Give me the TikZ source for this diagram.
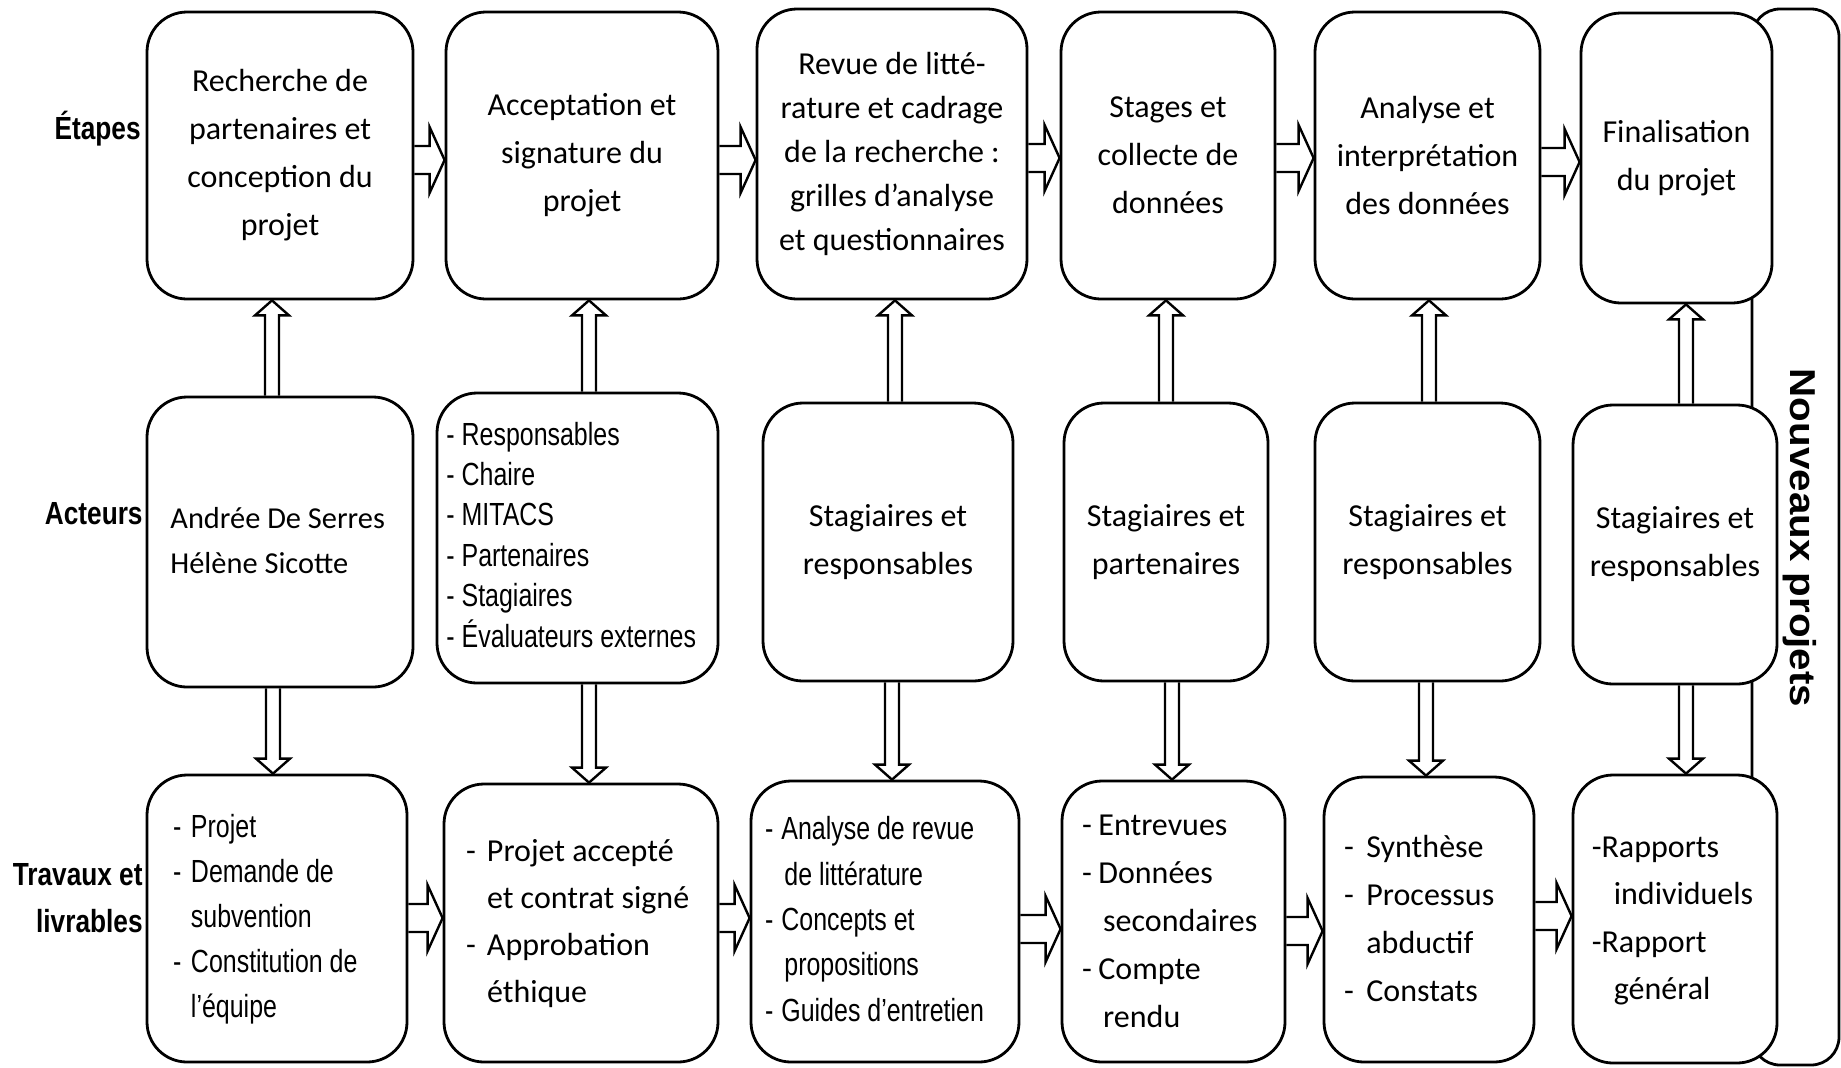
\documentclass[tikz,border=0pt]{standalone}
\usepackage{fontspec}
\usepackage{graphicx}
\setmainfont{Carlito}
\newfontfamily\narrowfont[FakeStretch=0.78]{Liberation Sans}
\newfontfamily\lblfont[FakeStretch=0.82]{Liberation Sans}
\newfontfamily\wideboldfont{Liberation Sans}
\usetikzlibrary{calc,backgrounds}
\newcommand\Dsh[1]{\makebox[#1][l]{-}}
\newcommand\Ind[1]{\hspace*{#1}}
% left-aligned block inside a box of given width, with given left padding
\newcommand\LBox[3]{\makebox[#2][l]{\hspace*{#1}\begin{tabular}{@{}l@{}}#3\end{tabular}}}
\newcommand\ArrRight[3]{%
  \draw[blk] let \p1=(#1.east |- #3), \p2=(#2.west |- #3) in
    (\x1,\y1+7pt) -- (\x2-7.5pt,\y1+7pt) -- (\x2-7.5pt,\y1+16.5pt) -- (\x2,\y1)
    -- (\x2-7.5pt,\y1-16.5pt) -- (\x2-7.5pt,\y1-7pt) -- (\x1,\y1-7pt);}
\newcommand\ArrUp[3]{%
  \draw[blk] let \p1=(#1.north -| #3), \p2=(#2.south -| #3) in
    (\x1-3.5pt,\y1) -- (\x1-3.5pt,\y2-7.5pt) -- (\x1-8.5pt,\y2-7.5pt) -- (\x1,\y2)
    -- (\x1+8.5pt,\y2-7.5pt) -- (\x1+3.5pt,\y2-7.5pt) -- (\x1+3.5pt,\y1);}
\newcommand\ArrDown[3]{%
  \draw[blk] let \p1=(#1.south -| #3), \p2=(#2.north -| #3) in
    (\x1-3.5pt,\y1) -- (\x1-3.5pt,\y2+7.5pt) -- (\x1-8.5pt,\y2+7.5pt) -- (\x1,\y2)
    -- (\x1+8.5pt,\y2+7.5pt) -- (\x1+3.5pt,\y2+7.5pt) -- (\x1+3.5pt,\y1);}
\tikzset{
  box/.style={draw, line width=1.4pt, rounded corners=20pt, fill=white, inner sep=0pt,
    font=\fontsize{16}{24}\selectfont, align=center},
  blk/.style={draw, line width=1.2pt, line join=miter},
  lbl/.style={font=\lblfont\bfseries\fontsize{16}{23.5}\selectfont, anchor=east, align=right, inner sep=0pt},
  backbox/.style={draw, line width=1.4pt, rounded corners=14pt, inner sep=0pt},
}
\begin{document}
\begin{tikzpicture}[x=0.5pt,y=-0.5pt]
\useasboundingbox (0,0) rectangle (1841,1067);

% top row
\node[box, minimum width=133pt, minimum height=143.5pt] (t1) at (280,155.5) {Recherche de\\partenaires et\\conception du\\projet};
\node[box, minimum width=136pt, minimum height=143.5pt] (t2) at (582,155.5) {Acceptation et\\signature du\\projet};
\node[box, minimum width=135pt, minimum height=145pt, font=\fontsize{16}{22}\selectfont] (t3) at (892,154) {Revue de litté-\\rature et cadrage\\de la recherche :\\grilles d’analyse\\et questionnaires};
\node[box, minimum width=107pt, minimum height=143.5pt] (t4) at (1168,155.5) {Stages et\\collecte de\\données};
\node[box, minimum width=112.5pt, minimum height=143.5pt] (t5) at (1427.5,155.5) {Analyse et\\interprétation\\des données};
\node[box, minimum width=95.5pt, minimum height=145pt] (t6) at (1676.5,158) {Finalisation\\du projet};

% middle row
\node[box, minimum width=133pt, minimum height=145pt, font=\fontsize{15.2}{22.3}\selectfont] (m1) at (280,542)
  {\LBox{11.7pt}{133pt}{Andrée De Serres\\Hélène Sicotte}};
\node[box, minimum width=140.5pt, minimum height=145pt, font=\narrowfont\fontsize{16}{20.2}\selectfont] (m2) at (577.5,538)
  {\LBox{4.7pt}{140.5pt}{- Responsables\\- Chaire\\- MITACS\\- Partenaires\\- Stagiaires\\- Évaluateurs externes}};
\node[box, minimum width=125pt, minimum height=139pt] (m3) at (888,542) {Stagiaires et\\responsables};
\node[box, minimum width=102pt, minimum height=139pt] (m4) at (1166,542) {Stagiaires et\\partenaires};
\node[box, minimum width=112.5pt, minimum height=139pt] (m5) at (1427.5,542) {Stagiaires et\\responsables};
\node[box, minimum width=102pt, minimum height=139.5pt] (m6) at (1675,544.5) {Stagiaires et\\responsables};

% bottom row
\node[box, minimum width=130pt, minimum height=143.5pt, font=\narrowfont\fontsize{16}{22.6}\selectfont] (b1) at (277,918.5)
  {\LBox{13pt}{130pt}{\Dsh{9pt}Projet\\\Dsh{9pt}Demande de\\\Ind{9pt}subvention\\\Dsh{9pt}Constitution de\\\Ind{9pt}l’équipe}};
\node[box, minimum width=137pt, minimum height=139pt, font=\fontsize{16}{23.5}\selectfont] (b2) at (581,923)
  {\LBox{11pt}{137pt}{\Dsh{10.5pt}Projet accepté\\\Ind{10.5pt}et contrat signé\\\Dsh{10.5pt}Approbation\\\Ind{10.5pt}éthique}};
\node[box, minimum width=134pt, minimum height=140.5pt, font=\narrowfont\fontsize{16}{22.7}\selectfont] (b3) at (885,921.5)
  {\LBox{7pt}{134pt}{\Dsh{8.2pt}Analyse de revue\\\Ind{9.7pt}de littérature\\\Dsh{8.2pt}Concepts et\\\Ind{9.7pt}propositions\\\Dsh{8.2pt}Guides d’entretien}};
\node[box, minimum width=111.5pt, minimum height=140.5pt, font=\fontsize{16}{24}\selectfont] (b4) at (1173.5,921.5)
  {\LBox{10pt}{111.5pt}{\Dsh{8.2pt}Entrevues\\\Dsh{8.2pt}Données\\\Ind{10.6pt}secondaires\\\Dsh{8.2pt}Compte\\\Ind{10.6pt}rendu}};
\node[box, minimum width=105pt, minimum height=142.5pt, font=\fontsize{16}{24}\selectfont] (b5) at (1429,919.5)
  {\LBox{10pt}{105pt}{\Dsh{11.2pt}Synthèse\\\Dsh{11.2pt}Processus\\\Ind{11.2pt}abductif\\\Dsh{11.2pt}Constats}};
\node[box, minimum width=102pt, minimum height=144pt, font=\fontsize{16}{23.8}\selectfont] (b6) at (1675,919)
  {\LBox{9.4pt}{102pt}{-Rapports\\\Ind{11pt}individuels\\-Rapport\\\Ind{11pt}général}};

% row labels
\node[lbl] (le) at (141,129) {Étapes};
\node[lbl] (la) at (143,514) {Acteurs};
\node[lbl] (lt) at (143,898) {Travaux et\\livrables};

% side label
\node[rotate=-90, inner sep=0pt, font=\wideboldfont\bfseries\fontsize{18}{20}\selectfont] (npt) at (1800,538) {\scalebox{1.12}[1]{Nouveaux projets}};

% coordinates for connectors
\coordinate (v1u) at (272,0);  \coordinate (v1d) at (273,0);
\coordinate (v2u) at (589,0);  \coordinate (v2d) at (589,0);
\coordinate (v3u) at (895,0);  \coordinate (v3d) at (892,0);
\coordinate (v4u) at (1166,0); \coordinate (v4d) at (1172,0);
\coordinate (v5u) at (1429,0); \coordinate (v5d) at (1426,0);
\coordinate (v6u) at (1686,0); \coordinate (v6d) at (1686,0);
\coordinate (h12) at (0,160); \coordinate (h23) at (0,160); \coordinate (h34) at (0,158);
\coordinate (h45) at (0,158); \coordinate (h56) at (0,162);
\coordinate (g12) at (0,918); \coordinate (g23) at (0,918); \coordinate (g34) at (0,929);
\coordinate (g45) at (0,931); \coordinate (g56) at (0,916);

\begin{pgfonlayer}{background}
  \node[backbox, minimum width=43.5pt, minimum height=528pt] (np) at (1795.5,537) {};
  \ArrRight{t1}{t2}{h12}
  \ArrRight{t2}{t3}{h23}
  \ArrRight{t3}{t4}{h34}
  \ArrRight{t4}{t5}{h45}
  \ArrRight{t5}{t6}{h56}
  \ArrRight{b1}{b2}{g12}
  \ArrRight{b2}{b3}{g23}
  \ArrRight{b3}{b4}{g34}
  \ArrRight{b4}{b5}{g45}
  \ArrRight{b5}{b6}{g56}
  \ArrUp{m1}{t1}{v1u} \ArrDown{m1}{b1}{v1d}
  \ArrUp{m2}{t2}{v2u} \ArrDown{m2}{b2}{v2d}
  \ArrUp{m3}{t3}{v3u} \ArrDown{m3}{b3}{v3d}
  \ArrUp{m4}{t4}{v4u} \ArrDown{m4}{b4}{v4d}
  \ArrUp{m5}{t5}{v5u} \ArrDown{m5}{b5}{v5d}
  \ArrUp{m6}{t6}{v6u} \ArrDown{m6}{b6}{v6d}
\end{pgfonlayer}
\end{tikzpicture}
\end{document}
